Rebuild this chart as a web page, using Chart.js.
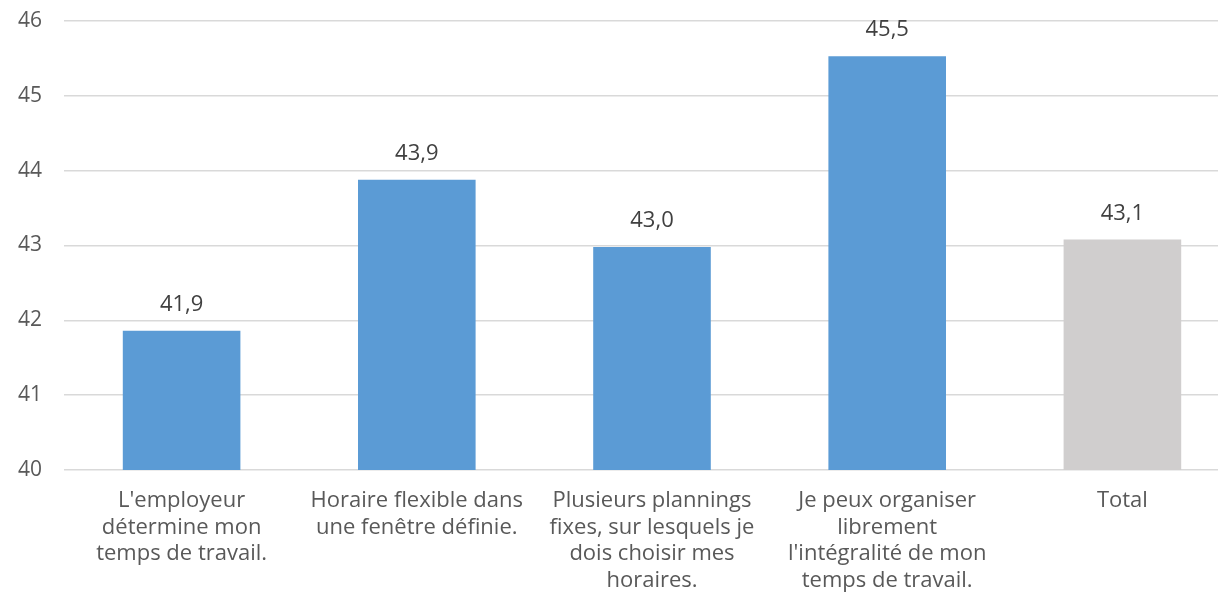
<!DOCTYPE html>
<html>
<head>
<meta charset="utf-8">
<script src="https://cdn.jsdelivr.net/npm/chart.js@4/dist/chart.umd.min.js"></script>
<style>
  html, body { margin:0; padding:0; background:#fff; overflow:hidden; }
  #wrap { width:1218px; height:613px; overflow:hidden; }
</style>
</head>
<body>
<div id="wrap"><canvas id="barChart" width="1240" height="613"></canvas></div>
<script>
/* =========================
   DATA
========================= */

const categories = [
    ["L'employeur", "détermine mon", "temps de travail."],
    ["Horaire flexible dans", "une fenêtre définie."],
    ["Plusieurs plannings", "fixes, sur lesquels je", "dois choisir mes", "horaires."],
    ["Je peux organiser", "librement", "l'intégralité de mon", "temps de travail."],
    ["Total"]
];
const values = [41.86, 43.88, 42.98, 45.53, 43.08];
const barColors = ["#5B9BD5", "#5B9BD5", "#5B9BD5", "#5B9BD5", "#D0CECE"];
const yTicks = [40, 41, 42, 43, 44, 45, 46];

const FONT = "'Open Sans', Carlito, Calibri, sans-serif";

/* =========================
   VALUE LABELS
========================= */

const valueLabels = {
    id: "valueLabels",
    afterDatasetsDraw(chart){
        const ctx = chart.ctx;
        const meta = chart.getDatasetMeta(0);
        ctx.save();
        ctx.font = "22px " + FONT;
        ctx.fillStyle = "#404040";
        ctx.textAlign = "center";
        ctx.textBaseline = "middle";
        meta.data.forEach((bar, i)=>{
            const txt = values[i].toFixed(1).replace(".", ",");
            ctx.fillText(txt, bar.x, bar.y - 26);
        });
        ctx.restore();
    }
};

/* =========================
   CHART
========================= */

new Chart(document.getElementById("barChart"), {
    type: "bar",
    data: {
        labels: categories,
        datasets: [{
            data: values,
            backgroundColor: barColors,
            categoryPercentage: 1,
            barPercentage: 0.5
        }]
    },
    options: {
        responsive: false,
        animation: false,
        layout: { padding: { top: 21, right: 0, left: 0, bottom: 0 } },
        plugins: {
            legend: { display: false },
            tooltip: { enabled: false }
        },
        scales: {
            x: {
                grid: { display: false },
                border: { display: false },
                ticks: {
                    color: "#595959",
                    font: { family: FONT, size: 22, lineHeight: 1.2 },
                    maxRotation: 0,
                    autoSkip: false,
                    padding: 10
                },
                afterFit: s => { s.height = 143; }
            },
            y: {
                min: 40,
                max: 46,
                afterBuildTicks: s => { s.ticks = yTicks.map(v => ({ value: v })); },
                grid: { color: "#D9D9D9", lineWidth: 1.5, drawTicks: true, tickLength: 22, tickColor: "rgba(0,0,0,0)" },
                border: { display: false },
                ticks: {
                    color: "#595959",
                    font: { family: FONT, size: 21 },
                    padding: 0
                },
                afterFit: s => { s.width = 64; }
            }
        }
    },
    plugins: [valueLabels]
});
</script>
</body>
</html>
